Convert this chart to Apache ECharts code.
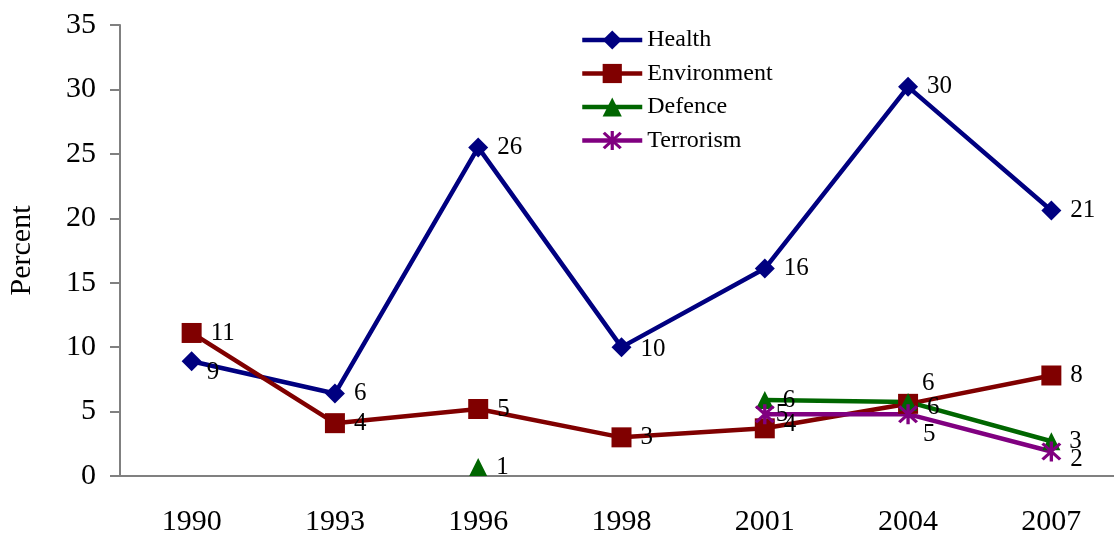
<!DOCTYPE html>
<html>
<head>
<meta charset="utf-8">
<script src="https://cdn.jsdelivr.net/npm/echarts@6/dist/echarts.min.js"></script>
<style>
  html, body { margin: 0; padding: 0; background: #fff; }
  #chart { width: 1114px; height: 536px; }
</style>
</head>
<body>
<div id="chart"></div>
<script>
// survey years
const years = ['1990', '1993', '1996', '1998', '2001', '2004', '2007']
// percent per issue (null = not asked)
const health      = [8.9, 6.4, 25.5, 10.0, 16.1, 30.2, 20.6]
const environment = [11.1, 4.1, 5.2, 3.0, 3.7, 5.6, 7.8]
const defence     = [null, null, 0.7, null, 5.9, 5.75, 2.7]
const terrorism   = [null, null, null, null, 4.8, 4.8, 1.9]
const yTicks = [0, 5, 10, 15, 20, 25, 30, 35]

const FONT = '"Liberation Serif", "Times New Roman", serif'

// asterisk symbol for terrorism
const asterisk = 'path://M4.3 0 L5.7 0 L5.7 10 L4.3 10 Z M0.8 1.5 L1.8 0.5 L9.2 8.5 L8.2 9.5 Z M8.2 0.5 L9.2 1.5 L1.8 9.5 L0.8 8.5 Z'

// label tweaks per point (series name -> index -> label options)
const labelTweaks = {
  Health: { 0: { offset: [-4, 11] }, 3: { offset: [0, 2] } },
  Environment: { 4: { offset: [0, -4] }, 5: { offset: [0, 4] } },
  Defence: { 5: { offset: [-4, -18] } },
  Terrorism: { 4: { offset: [-8, 0] }, 5: { offset: [-4, 20] }, 6: { offset: [0, 8] } }
}

function build(name, values) {
  return values.map((v, i) => {
    const t = labelTweaks[name] && labelTweaks[name][i]
    return t ? { value: v, label: t } : v
  })
}

const chart = echarts.init(document.getElementById('chart'))

function line(name, values, color, symbol, size) {
  return {
    name: name,
    type: 'line',
    data: build(name, values),
    connectNulls: false,
    symbol: symbol,
    symbolSize: size,
    showAllSymbol: true,
    itemStyle: { color: color },
    lineStyle: { color: color, width: 4.5 },
    label: {
      show: true,
      position: 'right',
      distance: 9,
      color: '#000',
      fontFamily: FONT,
      fontSize: 25,
      formatter: p => Math.round(Array.isArray(p.value) ? p.value[1] : p.value)
    },
    emphasis: { disabled: true },
    animation: false
  }
}

chart.setOption({
  backgroundColor: '#fff',
  grid: { left: 120, right: -9, top: 25, bottom: 60, outerBoundsMode: 'none', containLabel: false },
  legend: {
    orient: 'vertical',
    left: 575,
    top: 23,
    itemWidth: 60,
    itemHeight: 24,
    itemGap: 9.5,
    lineStyle: { width: 4.5 },
    textStyle: { fontFamily: FONT, fontSize: 24, color: '#000' },
    data: ['Health', 'Environment', 'Defence', 'Terrorism']
  },
  xAxis: {
    type: 'category',
    data: years,
    boundaryGap: true,
    axisLine: { lineStyle: { color: '#808080', width: 2 } },
    axisTick: { length: 10, lineStyle: { color: '#808080', width: 2 } },
    axisLabel: { color: '#000', fontFamily: FONT, fontSize: 30, margin: 31 },
    splitLine: { show: false }
  },
  yAxis: {
    type: 'value',
    min: yTicks[0],
    max: yTicks[yTicks.length - 1],
    interval: yTicks[1] - yTicks[0],
    name: 'Percent',
    nameLocation: 'middle',
    nameGap: 83,
    nameRotate: 90,
    nameTextStyle: { color: '#000', fontFamily: FONT, fontSize: 30 },
    axisLine: { show: true, lineStyle: { color: '#808080', width: 2 } },
    axisTick: { show: true, length: 10, lineStyle: { color: '#808080', width: 2 } },
    axisLabel: { color: '#000', fontFamily: FONT, fontSize: 30, margin: 24 },
    splitLine: { show: false }
  },
  series: [
    line('Health', health, '#000080', 'diamond', 20),
    line('Environment', environment, '#800000', 'rect', 20),
    line('Defence', defence, '#006600', 'triangle', 18),
    line('Terrorism', terrorism, '#800080', asterisk, 20)
  ]
})
</script>
</body>
</html>
